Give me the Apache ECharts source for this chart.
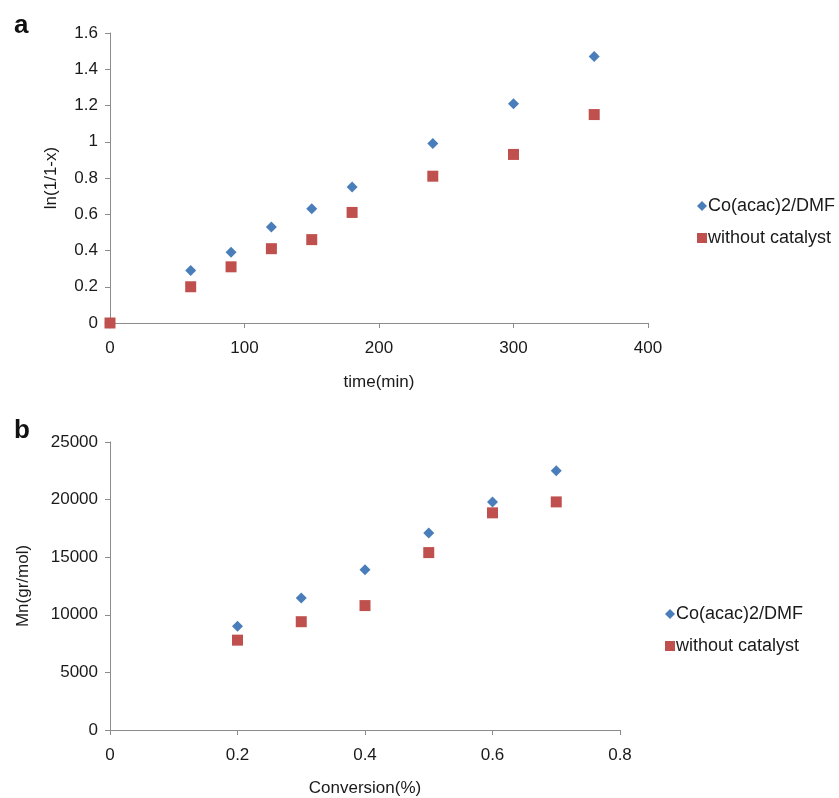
<!DOCTYPE html>
<html lang="en">
  <head>
    <meta charset="UTF-8" />
    <title>Kinetics and Mn</title>
    <script src="https://cdn.jsdelivr.net/npm/echarts@6.0.0/dist/echarts.min.js"></script>
    <style>
      html, body { margin: 0; padding: 0; background: #fff; }
    </style>
  </head>
  <body>
    <div id="main" style="width: 839px; height: 798px"></div>
    <script type="text/javascript">
      // panel a: ln(1/1-x) vs time
      let timeMin = [0, 60, 90, 120, 150, 180, 240, 300, 360]
      let lnCo = [0, 0.29, 0.39, 0.53, 0.63, 0.75, 0.99, 1.21, 1.47]
      let lnNoCat = [0, 0.2, 0.31, 0.41, 0.46, 0.61, 0.81, 0.93, 1.15]

      // panel b: Mn vs conversion
      let conversion = [0.2, 0.3, 0.4, 0.5, 0.6, 0.7]
      let mnCo = [9000, 11450, 13900, 17100, 19800, 22500]
      let mnNoCat = [7800, 9400, 10800, 15400, 18850, 19800]

      let names = ["Co(acac)2/DMF", "without catalyst"]
      let blue = "#4a7ebb"
      let red = "#c0504d"
      let font = "Liberation Sans, Arial, sans-serif"

      function pairs(xs, ys) {
        return xs.map((x, i) => [x, ys[i]])
      }

      function axisBase(isX) {
        return {
          axisLine: { show: true, lineStyle: { color: "#8c8c8c", width: 1 } },
          axisTick: { show: true, length: 5, lineStyle: { color: "#8c8c8c" } },
          splitLine: { show: false },
          axisLabel: {
            color: "#1a1a1a", fontSize: 17, fontFamily: font,
            margin: isX ? 17 : 12,
            formatter: (v) => String(v),
          },
          nameMoveOverlap: false,
          nameTextStyle: { color: "#1a1a1a", fontSize: 17, fontFamily: font },
        }
      }

      let options = {
        backgroundColor: "#fff",
        animation: false,
        title: [
          { text: "a", left: 9, top: 8, textStyle: { fontSize: 26, fontWeight: "bold", fontFamily: font, color: "#111" } },
          { text: "b", left: 9, top: 413, textStyle: { fontSize: 26, fontWeight: "bold", fontFamily: font, color: "#111" } },
        ],
        legend: [
          {
            orient: "vertical", left: 692, top: 192, itemGap: 14, itemWidth: 10, itemHeight: 10,
            textStyle: { fontSize: 18, fontFamily: font, color: "#1a1a1a", padding: [0, 0, 0, -4] },
            data: [{ name: names[0], icon: "diamond" }, { name: names[1], icon: "rect" }],
          },
          {
            orient: "vertical", left: 660, top: 600, itemGap: 14, itemWidth: 10, itemHeight: 10,
            textStyle: { fontSize: 18, fontFamily: font, color: "#1a1a1a", padding: [0, 0, 0, -4] },
            data: [{ name: names[0], icon: "diamond" }, { name: names[1], icon: "rect" }],
          },
        ],
        grid: [
          { left: 110, top: 33, width: 538, height: 290 },
          { left: 110, top: 442, width: 510, height: 290 },
        ],
        xAxis: [
          Object.assign(axisBase(true), {
            gridIndex: 0, type: "value", min: 0, max: 400, interval: 100,
            name: "time(min)", nameLocation: "middle", nameGap: 51,
          }),
          Object.assign(axisBase(true), {
            gridIndex: 1, type: "value", min: 0, max: 0.8, interval: 0.2,
            name: "Conversion(%)", nameLocation: "middle", nameGap: 50,
          }),
        ],
        yAxis: [
          Object.assign(axisBase(false), {
            gridIndex: 0, type: "value", min: 0, max: 1.6, interval: 0.2,
            name: "ln(1/1-x)", nameLocation: "middle", nameGap: 50,
          }),
          Object.assign(axisBase(false), {
            gridIndex: 1, type: "value", min: 0, max: 25000, interval: 5000,
            name: "Mn(gr/mol)", nameLocation: "middle", nameGap: 78,
          }),
        ],
        series: [
          {
            name: names[0], type: "scatter", xAxisIndex: 0, yAxisIndex: 0,
            symbol: "diamond", symbolSize: 11, clip: false,
            itemStyle: { color: blue, opacity: 1 }, data: pairs(timeMin, lnCo),
          },
          {
            name: names[1], type: "scatter", xAxisIndex: 0, yAxisIndex: 0,
            symbol: "rect", symbolSize: 11, clip: false,
            itemStyle: { color: red, opacity: 1 }, data: pairs(timeMin, lnNoCat),
          },
          {
            name: names[0], type: "scatter", xAxisIndex: 1, yAxisIndex: 1,
            symbol: "diamond", symbolSize: 11, clip: false,
            itemStyle: { color: blue, opacity: 1 }, data: pairs(conversion, mnCo),
          },
          {
            name: names[1], type: "scatter", xAxisIndex: 1, yAxisIndex: 1,
            symbol: "rect", symbolSize: 11, clip: false,
            itemStyle: { color: red, opacity: 1 }, data: pairs(conversion, mnNoCat),
          },
        ],
      }

      let myChart = echarts.init(document.getElementById("main"))
      myChart.setOption(options)
    </script>
  </body>
</html>
